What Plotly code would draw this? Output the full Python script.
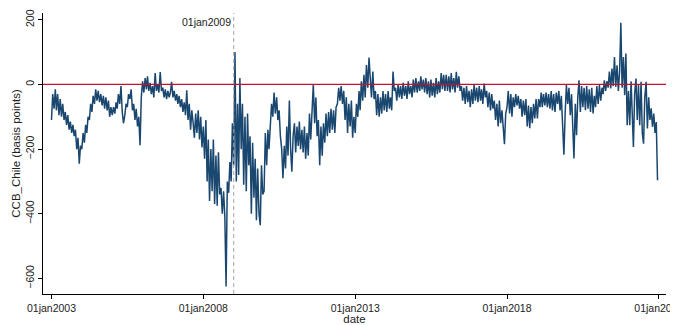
import plotly.graph_objects as go

# Semi-monthly readings (1st and 16th of each month), basis points
years = list(range(2003, 2023))
ccb = {
    2003: [-110, -30, -75, -15, -80, -30, -95, -45, -100, -60, -110, -85,
           -125, -95, -140, -115, -150, -125, -160, -140, -200, -165, -245, -190],
    2004: [-200, -150, -180, -125, -150, -100, -110, -60, -85, -35, -60, -15,
           -50, -20, -55, -30, -65, -35, -75, -40, -80, -50, -100, -70],
    2005: [-95, -70, -90, -55, -75, -30, -60, -5, -85, -120, -95, -60,
           -70, -30, -45, -15, -80, -60, -110, -75, -130, -100, -188, -40],
    2006: [10, -25, 20, -15, 25, -20, 5, -30, -5, -40, 35, -20,
           0, -25, 38, -20, -10, -40, -15, -45, -20, -40, -25, 8],
    2007: [-40, -20, -50, -30, -60, -35, -70, -45, -85, -55, -95, -18,
           -110, -60, -140, -80, -120, -165, -90, -150, -80, -170, -100, -195],
    2008: [-130, -230, -110, -300, -170, -360, -200, -330, -170, -370, -220, -375,
           -210, -340, -320, -400, -330, -410, -625, -300, -335, -240, -300, -120],
    2009: [-250, 100, -300, -60, -280, 20, -200, -60, -310, -100, -330, -90,
           -250, -160, -400, -180, -350, -230, -420, -260, -400, -435, -250, -340],
    2010: [-330, -150, -250, -140, -200, -110, -60, -100, -25, -90, -40, -110,
           -80, -160, -200, -290, -190, -260, -130, -220, -50, -200, -270, -160],
    2011: [-120, -210, -130, -190, -115, -200, -140, -210, -130, -230, -150, -220,
           -90, -170, -100, 0, -120, -40, -160, -110, -250, -130, -220, -120],
    2012: [-180, -90, -160, -85, -150, -75, -140, -80, -150, -70, -60, -10,
           -50, -5, -60, -20, -110, -40, -150, -60, -130, -50, -165, -100],
    2013: [-150, -60, -100, -20, -80, 10, -50, 30, -40, 60, -10, 83,
           20, -40, 40, -45, -20, -95, -30, -100, -40, -90, -20, -80],
    2014: [-30, -85, -20, -75, -40, -80, 40, -20, -10, -50, 0, -40,
           -5, -45, 5, -35, -5, -45, 10, -30, -5, -40, 15, -25],
    2015: [20, -25, 10, -20, 25, -15, 15, -25, 20, -30, 10, -40,
           15, -35, 5, -40, 20, -30, 10, -25, 35, -15, 30, -20],
    2016: [30, -20, 25, -25, 35, -15, 20, -25, 39, -10, 25, -20,
           -5, -50, -10, -60, -5, -55, -20, -70, -15, -60, 0, -50],
    2017: [-10, -55, -5, -50, -15, -60, 3, -40, -20, -70, -25, -80,
           -30, -75, -50, -110, -60, -130, -50, -120, -80, -140, -185, -90],
    2018: [-70, -20, -90, -30, -100, -40, -70, -30, -65, -35, -75, -45,
           -100, -50, -95, -45, -130, -65, -135, -70, -120, -60, -105, -45],
    2019: [-105, -45, -70, -25, -70, -30, -65, -25, -70, -30, -75, -20,
           -80, -30, -85, -25, -60, -20, -80, -35, -157, -217, -90, -2],
    2020: [-60, -10, -95, -30, -126, -229, -60, -157, -40, 13, -85, -5,
           -70, -10, -80, -5, -75, -15, -85, -10, -90, -35, -70, -5],
    2021: [-60, -2, -50, -10, -30, 13, -20, 10, -10, 40, -12, 49,
           -5, 85, -7, 59, -20, 40, 191, -10, 85, -33, 96, -126],
    2022: [-20, -126, 10, -100, -193, -30, 18, -110, 0, -126, 8, -150,
           -183, -40, 8, -136, -40, -110, -74, -131, -90, -150, -116, -296],
}

tick_dates = ["2003-01-01", "2008-01-01", "2013-01-01", "2018-01-01", "2023-01-01"]
tick_labels = ["01jan2003", "01jan2008", "01jan2013", "01jan2018", "01jan2023"]
y_ticks = [-600, -400, -200, 0, 200]
event_date = "2009-01-01"
event_label = "01jan2009"

dates, values = [], []
for y in years:
    vals = ccb[y]
    for i, v in enumerate(vals):
        m = i // 2 + 1
        d = 1 if i % 2 == 0 else 16
        dates.append(f"{y}-{m:02d}-{d:02d}")
        values.append(v)

navy = "#1a476f"
font = "Liberation Sans, Arial, sans-serif"

fig = go.Figure()
fig.add_trace(go.Scatter(x=dates, y=values, mode="lines",
                         line=dict(color=navy, width=1.5), showlegend=False,
                         hoverinfo="skip"))

fig.add_shape(type="line", xref="paper", yref="y", x0=0, x1=1, y0=0, y1=0,
              line=dict(color="#c8102e", width=1.2), layer="above")
fig.add_shape(type="line", xref="x", yref="paper", x0=event_date, x1=event_date,
              y0=0, y1=1, line=dict(color="#a6a6a6", width=1, dash="4px,3px"),
              layer="above")
fig.add_annotation(x=event_date, xref="x", y=1, yref="paper", text=event_label,
                   showarrow=False, xanchor="right", yanchor="top",
                   xshift=-1, yshift=-1,
                   font=dict(family=font, size=10.5, color="#222"))

# page body has an 8px default margin, so the figure is 8px smaller each way
fig.update_layout(
    width=670, height=317,
    margin=dict(l=35, r=12, t=5, b=31, autoexpand=False),
    paper_bgcolor="white", plot_bgcolor="white",
    font=dict(family=font, color="#222"),
    xaxis=dict(type="date", range=["2002-09-21", "2023-03-28"],
               tickvals=tick_dates, ticktext=tick_labels,
               tickfont=dict(size=10.5, family=font, color="#222"),
               ticklabeloverflow="allow",
               automargin=False,
               showline=True, linecolor="black", linewidth=1,
               ticks="outside", ticklen=4, tickcolor="black",
               showgrid=False, zeroline=False,
               title=dict(text="date", font=dict(size=11.5, family=font, color="#222"),
                          standoff=1)),
    yaxis=dict(range=[-648, 221], tickvals=y_ticks,
               tickfont=dict(size=10.5, family=font, color="#222"),
               tickangle=-90,
               ticklabeloverflow="allow",
               automargin=False,
               showline=True, linecolor="black", linewidth=1,
               ticks="outside", ticklen=4, tickcolor="black",
               showgrid=False, zeroline=False,
               title=dict(text="CCB_Chile (basis points)",
                          font=dict(size=11.5, family=font, color="#222"),
                          standoff=0)),
)

fig.write_html("out.html")
